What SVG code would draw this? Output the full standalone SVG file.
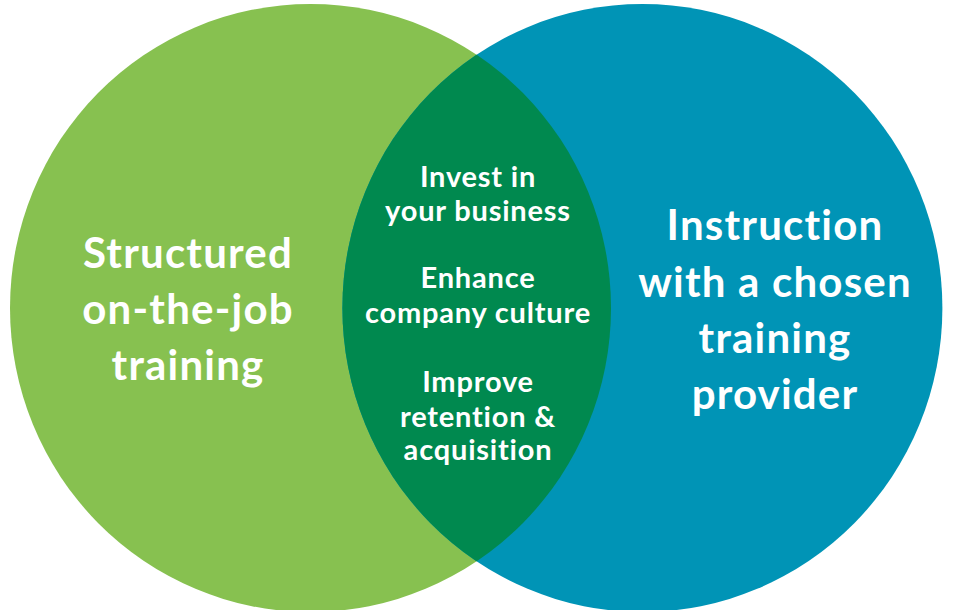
<svg xmlns="http://www.w3.org/2000/svg" width="953" height="610" viewBox="0 0 953 610">
  <style>
    .t { font-family: "Lato", "Open Sans", "Liberation Sans", sans-serif; font-weight: bold; fill: #ffffff; text-anchor: middle; }
    .big { font-size: 42px; letter-spacing: 1.2px; }
    .mid { font-size: 29px; letter-spacing: 0.8px; }
  </style>
  <defs>
    <clipPath id="leftClip">
      <ellipse cx="310.5" cy="308" rx="300.5" ry="304"/>
    </clipPath>
  </defs>
  <rect width="953" height="610" fill="#ffffff"/>
  <g id="left-circle">
    <ellipse cx="310.5" cy="308" rx="300.5" ry="304" fill="#87C150"/>
    <text class="t big" x="188" y="268">Structured</text>
    <text class="t big" x="188" y="324">on-the-job</text>
    <text class="t big" x="188" y="380">training</text>
  </g>
  <g id="right-circle">
    <ellipse cx="642.4" cy="308" rx="300" ry="304" fill="#0094B6"/>
    <text class="t big" x="775" y="240">Instruction</text>
    <text class="t big" x="775" y="297">with a chosen</text>
    <text class="t big" x="775" y="353">training</text>
    <text class="t big" x="775" y="409">provider</text>
  </g>
  <g id="intersection">
    <ellipse cx="642.4" cy="308" rx="300" ry="304" fill="#00894F" clip-path="url(#leftClip)"/>
    <text class="t mid" x="478" y="187">Invest in</text>
    <text class="t mid" x="478" y="221">your business</text>
    <text class="t mid" x="478" y="288">Enhance</text>
    <text class="t mid" x="478" y="323">company culture</text>
    <text class="t mid" x="478" y="392">Improve</text>
    <text class="t mid" x="478" y="427">retention &amp;</text>
    <text class="t mid" x="478" y="460">acquisition</text>
  </g>
  <g id="connectors"/>
</svg>
